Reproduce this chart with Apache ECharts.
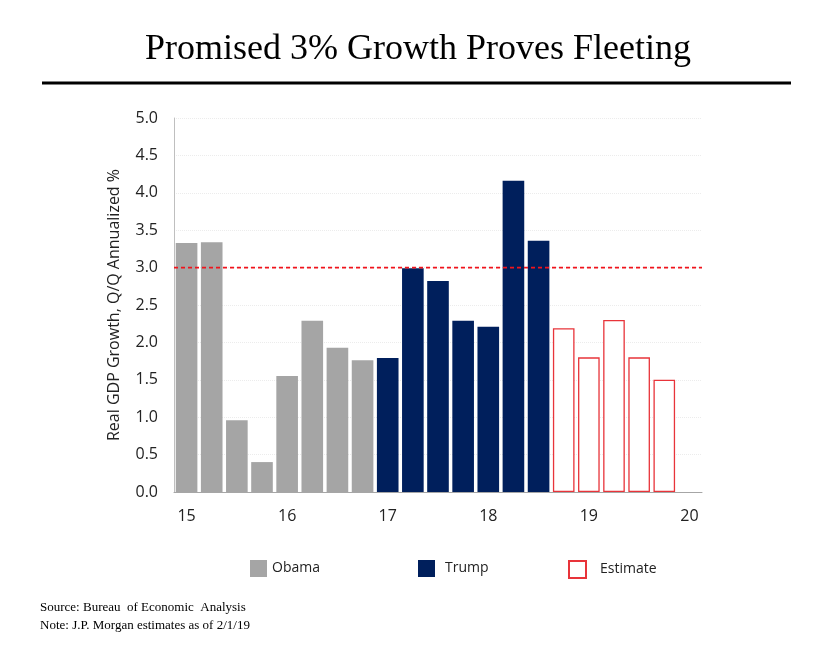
<!DOCTYPE html>
<html>
<head>
<meta charset="utf-8">
<script src="https://cdn.jsdelivr.net/npm/echarts@6/dist/echarts.min.js"></script>
<style>html,body{margin:0;padding:0;background:#fff;}#c{width:836px;height:654px;}</style>
</head>
<body>
<div id="c"></div>
<script>
const quarters = ['15Q1','15Q2','15Q3','15Q4','16Q1','16Q2','16Q3','16Q4','17Q1','17Q2','17Q3','17Q4','18Q1','18Q2','18Q3','18Q4','19Q1','19Q2','19Q3','19Q4','20Q1'];
const obama    = [3.33,3.34,0.96,0.40,1.55,2.29,1.93,1.76,null,null,null,null,null,null,null,null,null,null,null,null,null];
const trump    = [null,null,null,null,null,null,null,null,1.79,2.99,2.82,2.29,2.21,4.16,3.36,null,null,null,null,null,null];
const estimate = [null,null,null,null,null,null,null,null,null,null,null,null,null,null,null,2.19,1.80,2.30,1.80,1.50,null];
const target = 3.0;
const yTicks = [0,0.5,1,1.5,2,2.5,3,3.5,4,4.5,5];

const sans = '"Open Sans", "Noto Sans", sans-serif';
const serif = '"Liberation Serif", "DejaVu Serif", serif';
const chart = echarts.init(document.getElementById('c'));
chart.setOption({
  animation: false,
  backgroundColor: '#fff',
  title: {
    text: 'Promised 3% Growth Proves Fleeting',
    left: 'center', top: 27,
    textStyle: {fontFamily: serif, fontSize: 36, fontWeight: 'normal', color: '#000'}
  },
  graphic: [
    {type: 'line', shape: {x1: 42, y1: 83, x2: 791, y2: 83}, style: {stroke: '#000', lineWidth: 3}},
    {type: 'text', left: 40, top: 599, style: {text: 'Source: Bureau  of Economic  Analysis\nNote: J.P. Morgan estimates as of 2/1/19', fill: '#000', font: '13px ' + serif, lineHeight: 18}}
  ],
  legend: [
    {data: ['Obama'], left: 245, top: 555, itemWidth: 17, itemHeight: 17, icon: 'rect', textStyle: {fontFamily: sans, fontSize: 14, color: '#222'}},
    {data: ['Trump'], left: 413, top: 555, itemWidth: 17, itemHeight: 17, icon: 'rect', textStyle: {fontFamily: sans, fontSize: 14, color: '#222', padding: [0,0,0,5]}},
    {data: ['Estimate'], left: 563, top: 555, itemWidth: 17, itemHeight: 17, icon: 'rect', textStyle: {fontFamily: sans, fontSize: 14, color: '#222', padding: [0,0,0,9]}}
  ],
  grid: {left: 174, right: 134, top: 118, bottom: 162},
  xAxis: [{
    type: 'category', data: quarters,
    axisLine: {lineStyle: {color: '#a6a6a6', width: 1}},
    axisTick: {show: false},
    axisLabel: {
      interval: 0, margin: 16, color: '#222', fontFamily: sans, fontSize: 16,
      formatter: v => v.endsWith('Q1') ? v.slice(0,2) : ''
    }
  }, {
    type: 'value', min: 0, max: 1, show: false
  }],
  yAxis: {
    type: 'value', min: 0, max: 5, interval: 0.5,
    name: 'Real GDP Growth, Q/Q Annualized %', nameLocation: 'middle', nameGap: 52,
    nameTextStyle: {fontFamily: sans, fontSize: 16, color: '#222'},
    axisLine: {show: true, lineStyle: {color: '#bfbfbf'}},
    axisTick: {show: false},
    axisLabel: {margin: 16, color: '#222', fontFamily: sans, fontSize: 16, formatter: v => yTicks.includes(v) ? v.toFixed(1) : ''},
    splitLine: {lineStyle: {color: '#ececec', type: 'dotted'}}
  },
  series: [
    {name: 'Obama', type: 'bar', stack: 'g', data: obama, barCategoryGap: '14%',
     itemStyle: {color: '#a5a5a5'}},
    {name: 'Trump', type: 'bar', stack: 'g', data: trump, barCategoryGap: '14%',
     itemStyle: {color: '#001f5c'}},
    {name: 'Estimate', type: 'bar', stack: 'g', data: estimate, barCategoryGap: '14%',
     itemStyle: {color: '#ffffff', borderColor: '#e8343a', borderWidth: 1.3}},
    {name: 'Target', type: 'line', xAxisIndex: 1, data: [[0, target], [1, target]],
     silent: true, symbol: 'none', z: 5,
     lineStyle: {color: '#f0141c', type: [4,3], width: 1.6}}
  ]
});
</script>
</body>
</html>
